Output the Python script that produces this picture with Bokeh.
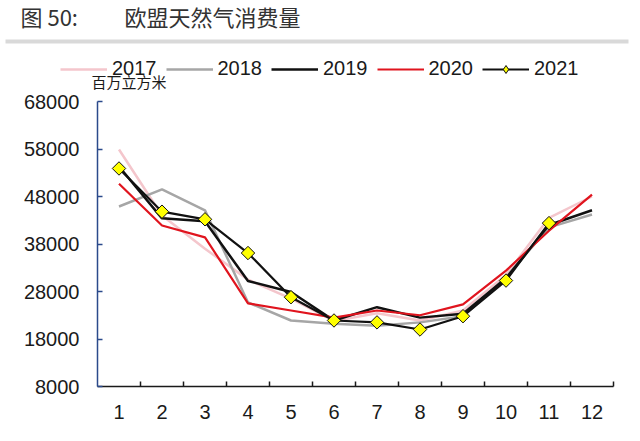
import numpy as np
from bokeh.plotting import figure
from bokeh.layouts import column
from bokeh.models import FixedTicker, Legend, LegendItem, Range1d
from bokeh.core.properties import value
from bokeh.embed import file_html
from bokeh.resources import INLINE

months = list(range(1, 13))
month_labels = [str(m) for m in months]
y_ticks = [8000, 18000, 28000, 38000, 48000, 58000, 68000]
series_names = ["2017", "2018", "2019", "2020", "2021"]

v2017 = [57900, 44000, 37000, 30500, 26500, 21800, 23400, 21900, 24000, 31500, 43500, 48000]
v2018 = [45900, 49500, 45100, 25700, 21900, 21200, 20800, 21500, 22800, 31000, 41500, 44200]
v2019 = [54300, 43400, 42800, 30200, 27900, 21900, 24700, 22500, 23300, 30800, 42000, 45100]
v2020 = [50700, 41900, 39400, 25500, 24000, 22500, 24000, 23000, 25300, 32400, 40800, 48400]
v2021 = [53900, 44800, 43200, 36100, 26800, 21900, 21500, 20000, 22800, 30300, 42400]

title_prefix = "图 50:"
title_text = "欧盟天然气消费量"
unit_text = "百万立方米"

FONT = "Liberation Sans"
CJK = "Noto Sans CJK SC"

styles = {
    "2017": dict(line_color="#f4c6cc", line_width=2.5),
    "2018": dict(line_color="#a6a6a6", line_width=2.5),
    "2019": dict(line_color="#111111", line_width=2.5),
    "2020": dict(line_color="#e0141e", line_width=2.2),
    "2021": dict(line_color="#111111", line_width=2.2),
}
marker_style = dict(marker="square", angle=np.pi / 4, size=9.5,
                    fill_color="#ffff00", line_color="#111111", line_width=1)
legend_marker_style = dict(marker="diamond", size=15,
                           fill_color="#ffff00", line_color="#111111", line_width=1)

# ---------------- header (title, separator, legend, unit) ----------------
H = 92
h = figure(width=640, height=H, output_backend="svg", toolbar_location=None,
           x_range=Range1d(0, 640), y_range=Range1d(H, 0),
           x_axis_type=None, y_axis_type=None, min_border=0,
           frame_align=False)
h.outline_line_color = None
h.xgrid.visible = False
h.ygrid.visible = False

h.text(x=[20], y=[15], text=[title_prefix], text_font=value(CJK),
       text_font_size="22px", text_color="#333333", text_baseline="middle")
h.text(x=[124], y=[15], text=[title_text], text_font=value(CJK),
       text_font_size="22px", text_color="#333333", text_baseline="middle")
h.quad(left=[5], right=[628], top=[39], bottom=[43], fill_color="#d9d9d9",
       line_color=None)
h.text(x=[91], y=[81], text=[unit_text], text_font=value(CJK),
       text_font_size="15px", text_color="#1a1a1a", text_baseline="middle")

items = []
for name in series_names:
    rs = [h.line([-100, -90], [-100, -90], **styles[name])]
    if name == "2021":
        rs.append(h.scatter([-100], [-100], **legend_marker_style))
    items.append(LegendItem(label=name, renderers=rs))
legend = Legend(items=items, orientation="horizontal", location=(60, H - 80),
                glyph_width=47, glyph_height=20, label_height=20,
                label_standoff=5, spacing=9, padding=0, margin=0,
                border_line_color=None, background_fill_alpha=0,
                label_text_font=FONT, label_text_font_size="20px",
                label_text_color="#1a1a1a")
h.add_layout(legend, "center")

# ---------------- main chart ----------------
p = figure(width=640, height=441 - H, output_backend="svg", toolbar_location=None,
           x_range=Range1d(0.5, 12.5), y_range=Range1d(8000, 68000),
           min_border_left=97, min_border_right=27, min_border_top=101 - H,
           min_border_bottom=55, frame_align=False)
p.outline_line_color = None
p.xgrid.visible = False
p.ygrid.visible = False

p.yaxis.ticker = FixedTicker(ticks=y_ticks)
p.yaxis.axis_line_color = "#2b4a8b"
p.yaxis.axis_line_width = 1.5
p.yaxis.major_tick_in = 5
p.yaxis.major_tick_out = 0
p.yaxis.major_tick_line_color = "#2b4a8b"
p.yaxis.major_tick_line_width = 1.5
p.yaxis.minor_tick_line_color = None
p.yaxis.major_label_text_font = FONT
p.yaxis.major_label_text_font_size = "20px"
p.yaxis.major_label_text_color = "#1a1a1a"
p.yaxis.major_label_standoff = 18

p.xaxis.ticker = FixedTicker(ticks=months, minor_ticks=[m + 0.5 for m in range(1, 13)])
p.xaxis.major_label_overrides = {m: l for m, l in zip(months, month_labels)}
p.xaxis.axis_line_color = "#1a1a1a"
p.xaxis.axis_line_width = 1.5
p.xaxis.major_tick_line_color = None
p.xaxis.minor_tick_in = 5
p.xaxis.minor_tick_out = 0
p.xaxis.minor_tick_line_color = "#1a1a1a"
p.xaxis.minor_tick_line_width = 1.5
p.xaxis.major_label_text_font = FONT
p.xaxis.major_label_text_font_size = "20px"
p.xaxis.major_label_text_color = "#1a1a1a"
p.xaxis.major_label_standoff = 12

data = {"2017": v2017, "2018": v2018, "2019": v2019, "2020": v2020, "2021": v2021}
for name in series_names:
    vals = data[name]
    p.line(months[:len(vals)], vals, **styles[name])
p.scatter(months[:len(v2021)], v2021, **marker_style)

layout = column(h, p, spacing=0)
open("out.html", "w").write(file_html(layout, INLINE))
